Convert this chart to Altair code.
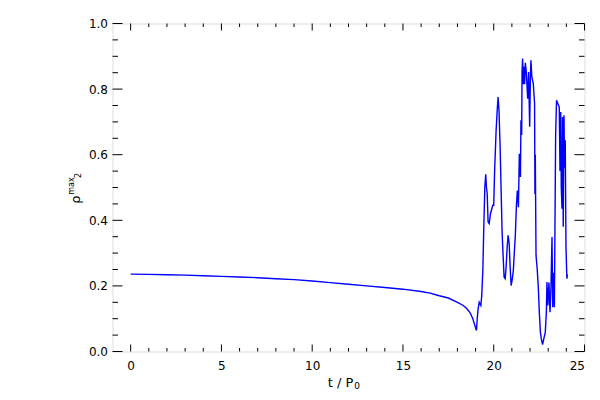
import altair as alt
import pandas as pd

# time in units of P0
t = [0, 1, 2, 3, 4, 5, 6, 7, 8, 9, 10, 11, 12, 13, 14, 15, 16,
     16.5, 17, 17.5, 18, 18.3, 18.5, 18.7, 18.85, 19.0, 19.05,
     19.09, 19.14, 19.2, 19.29, 19.34, 19.4, 19.45, 19.51, 19.56, 19.6,
     19.64, 19.69, 19.75, 19.82, 19.95, 20.0, 20.05, 20.13, 20.19, 20.24,
     20.29, 20.35, 20.41, 20.46, 20.52, 20.57, 20.63, 20.68, 20.74, 20.79,
     20.85, 20.9, 20.96, 21.02, 21.08, 21.14, 21.19, 21.25, 21.3, 21.36,
     21.41, 21.47, 21.5, 21.54, 21.56, 21.59, 21.63, 21.66, 21.7, 21.74,
     21.79, 21.87, 21.92, 21.98, 22.02, 22.05, 22.1, 22.18, 22.25, 22.27,
     22.29, 22.33, 22.4, 22.46, 22.51, 22.57, 22.62, 22.69, 22.76, 22.84,
     22.9, 22.93, 22.98, 23.04, 23.1, 23.15, 23.21, 23.25, 23.3, 23.34,
     23.37, 23.41, 23.46, 23.53, 23.61, 23.65, 23.69, 23.72, 23.76, 23.79,
     23.83, 23.87, 23.9, 23.94, 23.98, 24.03, 24.06]

rho = [0.236, 0.235, 0.234, 0.233, 0.231, 0.229, 0.227, 0.225, 0.222, 0.219,
       0.215, 0.210, 0.205, 0.200, 0.195, 0.190, 0.183,
       0.178, 0.170, 0.163, 0.150, 0.141, 0.132, 0.118, 0.100, 0.072, 0.064,
       0.10, 0.13, 0.15, 0.14, 0.171, 0.247, 0.374, 0.501, 0.540, 0.50,
       0.481, 0.395, 0.39, 0.42, 0.446, 0.446, 0.552, 0.672, 0.735, 0.776,
       0.735, 0.629, 0.486, 0.364, 0.288, 0.227, 0.222, 0.257, 0.318, 0.354,
       0.33, 0.262, 0.201, 0.22, 0.247, 0.308, 0.354, 0.446, 0.491, 0.44,
       0.603, 0.532, 0.705, 0.66, 0.852, 0.893, 0.815, 0.868, 0.815, 0.880,
       0.855, 0.771, 0.852, 0.685, 0.84, 0.888, 0.837, 0.817, 0.756, 0.48,
       0.6, 0.293, 0.247, 0.191, 0.12, 0.059, 0.039, 0.021, 0.039, 0.059,
       0.12, 0.212, 0.14, 0.21, 0.12, 0.19, 0.349, 0.135, 0.24, 0.135,
       0.359, 0.659, 0.766, 0.756, 0.745, 0.55, 0.73, 0.50, 0.435, 0.715,
       0.38, 0.72, 0.56, 0.644, 0.318, 0.222, 0.235]

x_major = [0, 5, 10, 15, 20, 25]
x_minor = [1, 2, 3, 4, 6, 7, 8, 9, 11, 12, 13, 14, 16, 17, 18, 19, 21, 22, 23, 24]
y_major = [0.0, 0.2, 0.4, 0.6, 0.8, 1.0]
y_minor = [0.05, 0.1, 0.15, 0.25, 0.3, 0.35, 0.45, 0.5, 0.55, 0.65, 0.7, 0.75,
           0.85, 0.9, 0.95]

W, H = 472, 328
FONT = "DejaVu Sans"

xs = alt.Scale(domain=[-1, 25], nice=False, zero=False)
ys = alt.Scale(domain=[0, 1], nice=False, zero=False)

xaxis = alt.Axis(values=x_major, title=None, ticks=False, tickSize=0,
                 domain=False, grid=False, labelPadding=9,
                 labelFont=FONT, labelFontSize=12, labelColor="black",
                 format="d")
yaxis = alt.Axis(values=y_major, title=None, ticks=False, tickSize=0,
                 domain=False, grid=False, labelPadding=5,
                 labelFont=FONT, labelFontSize=12, labelColor="black",
                 format=".1f")

df = pd.DataFrame({"t": t, "rho": rho, "i": range(len(t))})

line = alt.Chart(df).mark_line(color="#0000ff", strokeWidth=1.4).encode(
    x=alt.X("t:Q", scale=xs, axis=xaxis),
    y=alt.Y("rho:Q", scale=ys, axis=yaxis),
    order="i:Q",
)

def xticks(vals, length):
    d = pd.DataFrame({"v": vals})
    base = alt.Chart(d).mark_rule(color="black", strokeWidth=1)
    bot = base.encode(x=alt.X("v:Q", scale=xs, axis=xaxis),
                      y=alt.value(H), y2=alt.value(H - length))
    top = base.encode(x=alt.X("v:Q", scale=xs, axis=xaxis),
                      y=alt.value(0), y2=alt.value(length))
    return [bot, top]

def yticks(vals, length):
    d = pd.DataFrame({"v": vals})
    base = alt.Chart(d).mark_rule(color="black", strokeWidth=1)
    left = base.encode(y=alt.Y("v:Q", scale=ys, axis=yaxis),
                       x=alt.value(0), x2=alt.value(length))
    right = base.encode(y=alt.Y("v:Q", scale=ys, axis=yaxis),
                        x=alt.value(W), x2=alt.value(W - length))
    return [left, right]

tick_layers = xticks(x_major, 7) + xticks(x_minor, 3.5) + yticks(y_major, 10) + yticks(y_minor, 5.5)

def label(txt, x, y, size, angle=0):
    return alt.Chart(pd.DataFrame({"s": [txt]})).mark_text(
        font=FONT, fontSize=size, color="black", align="center",
        baseline="middle", angle=angle
    ).encode(text="s:N", x=alt.value(x), y=alt.value(y))

texts = [
    label("t / P", 228, 359, 13),
    label("0", 244.5, 362.5, 9),
    label("ρ", -37, 176, 13, 270),
    label("max", -40.5, 162.5, 8, 270),
    label("2", -34, 152, 8, 270),
]

chart = alt.layer(line, *tick_layers, *texts).properties(
    width=W, height=H,
    autosize=alt.AutoSizeParams(type="none"),
    padding={"left": 104.5, "top": 15.5, "right": 7.5, "bottom": 40.5},
).configure_view(stroke="black", strokeWidth=1).configure(background="white")

chart.save("out.html", embed_options={"renderer": "svg", "actions": False})
